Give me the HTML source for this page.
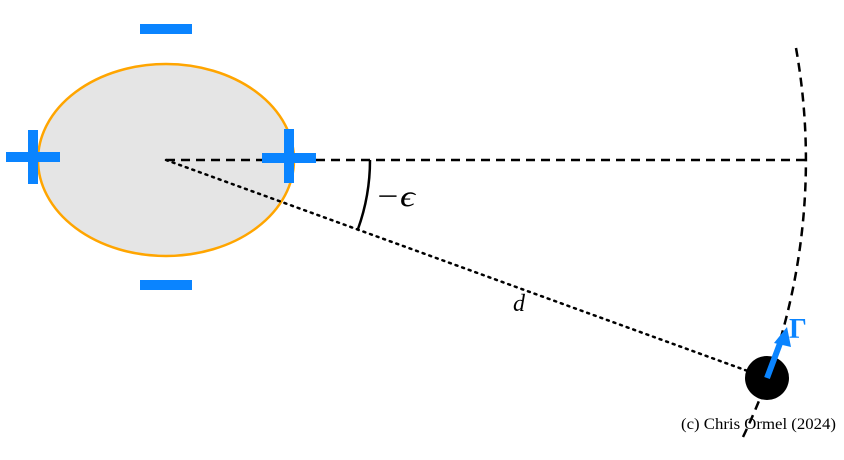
<!DOCTYPE html>
<html><head><style>body{margin:0;background:#fff}svg{display:block}</style></head><body>
<svg width="844" height="460" viewBox="0 0 844 460" xmlns="http://www.w3.org/2000/svg">
<ellipse cx="166" cy="160" rx="128" ry="96" fill="#e5e5e5" stroke="#ffa500" stroke-width="2.5"/>
<line x1="166" y1="160" x2="806" y2="160" stroke="#000" stroke-width="2.5" stroke-dasharray="9,6"/>
<line x1="166" y1="160" x2="767" y2="378" stroke="#000" stroke-width="2.5" stroke-dasharray="2,5" stroke-linecap="round"/>
<path d="M796,48 A640,640 0 0 1 743,437" fill="none" stroke="#000" stroke-width="2.5" stroke-dasharray="9,6"/>
<path d="M370,160 A204,204 0 0 1 358,229" fill="none" stroke="#000" stroke-width="2.5"/>
<g fill="#0a84ff">
<rect x="6" y="152" width="54" height="10"/><rect x="28" y="130" width="10" height="54"/>
<rect x="262" y="153" width="54" height="10"/><rect x="284" y="129" width="10" height="54"/>
<rect x="140" y="24" width="52" height="10"/>
<rect x="140" y="280" width="52" height="10"/>
</g>
<circle cx="767" cy="378" r="22" fill="#000"/>
<line x1="767" y1="378" x2="782" y2="338" stroke="#0a84ff" stroke-width="6"/>
<polygon points="787,327 774,343 791,347" fill="#0a84ff"/>
<text x="789" y="338" font-family="Liberation Serif, serif" font-size="28" font-weight="bold" fill="#0a84ff">Γ</text>
<text x="375" y="206" font-family="Liberation Serif, serif" font-size="30" font-style="italic" fill="#000" textLength="40" lengthAdjust="spacingAndGlyphs">−ϵ</text>
<text x="513" y="311" font-family="Liberation Serif, serif" font-size="24" font-style="italic" fill="#000">d</text>
<text x="681" y="429" font-family="Liberation Serif, serif" font-size="16" fill="#000" textLength="155" lengthAdjust="spacingAndGlyphs">(c) Chris Ormel (2024)</text>
</svg>
</body></html>
